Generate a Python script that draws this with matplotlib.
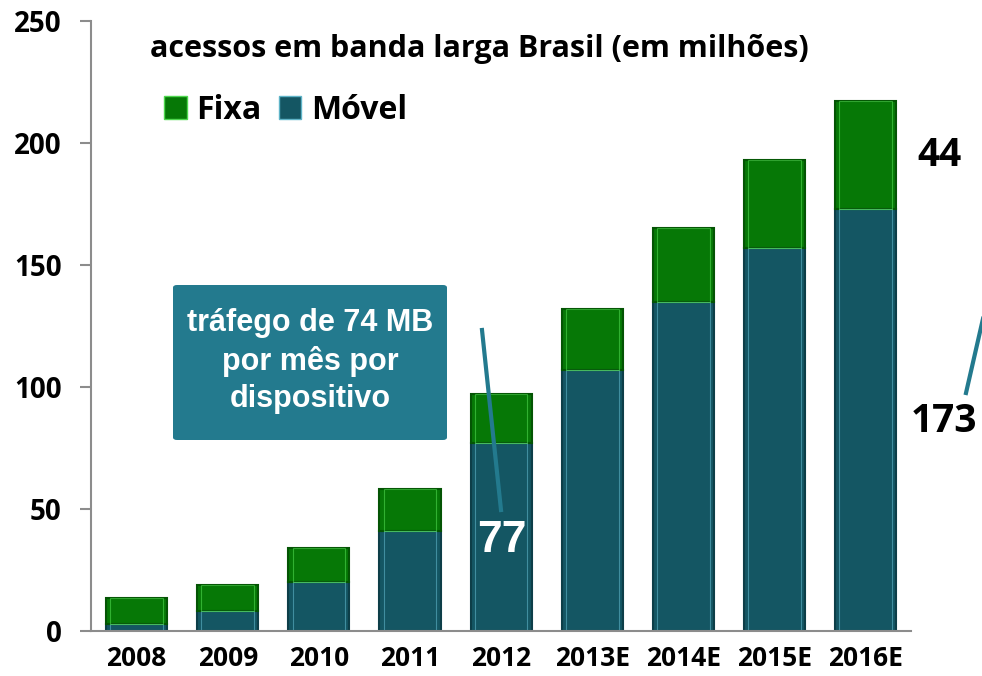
import matplotlib
matplotlib.use("Agg")
import matplotlib.pyplot as plt
from matplotlib.patches import Patch, FancyBboxPatch
from matplotlib.lines import Line2D
import numpy as np

# dados (milhões de acessos)
anos = ["2008", "2009", "2010", "2011", "2012", "2013E", "2014E", "2015E", "2016E"]
movel = [3, 8, 20, 41, 77, 107, 135, 157, 173]
fixa = [10.5, 11, 14, 17, 20, 25, 30, 36, 44]

verde = "#067806"
teal = "#145663"
caixa = "#237A8E"

plt.rcParams['font.family'] = ['Open Sans', 'DejaVu Sans']

fig = plt.figure(figsize=(9.82, 6.76), dpi=100)
ax = fig.add_axes([0.0927, 0.0666, 0.8353, 0.9024])

x = np.arange(len(anos))
w = 0.67
ax.bar(x, movel, w, color=teal, edgecolor="#0d3e48", linewidth=1.5)
ax.bar(x, fixa, w, bottom=movel, color=verde, edgecolor="#045404", linewidth=1.5)
# brilho interno (efeito chanfrado)
ax.bar(x, movel, w * 0.86, color="none", edgecolor="#5fb4c8", linewidth=0.8, alpha=0.6)
ax.bar(x, fixa, w * 0.86, bottom=movel, color="none", edgecolor="#4fd84f", linewidth=0.8, alpha=0.6)

ax.set_xlim(-0.5, len(anos) - 0.5)
ax.set_ylim(0, 250)
ax.set_yticks([0, 50, 100, 150, 200, 250])
ax.set_xticks(x)
ax.set_xticklabels(anos)
for s in ["top", "right"]:
    ax.spines[s].set_visible(False)
for s in ["left", "bottom"]:
    ax.spines[s].set_color("#8c8c8c")
    ax.spines[s].set_linewidth(1.5)
ax.tick_params(axis="y", length=8, width=1.5, color="#8c8c8c", labelsize=20, pad=13)
ax.tick_params(axis="x", length=0, labelsize=19, pad=10)
for t in ax.get_xticklabels() + ax.get_yticklabels():
    t.set_fontweight("bold")

fig.text(0.488, 0.927, "acessos em banda larga Brasil (em milhões)", ha="center", va="center",
         fontsize=22, fontweight="bold")

handles = [Patch(facecolor=verde, edgecolor="#4fd84f", label="Fixa"),
           Patch(facecolor=teal, edgecolor="#5fb4c8", label="Móvel")]
leg = fig.legend(handles=handles, loc="center left", bbox_to_anchor=(0.138, 0.837), ncol=2,
                 frameon=False, handlelength=0.7, handleheight=0.7, handletextpad=0.3,
                 columnspacing=0.55, prop={"size": 23, "weight": "bold"})

# caixa de anotação
box = FancyBboxPatch((173 / 982, 1 - 440 / 676), 274 / 982, 155 / 676,
                     boxstyle="round,pad=0,rounding_size=0.004", transform=fig.transFigure,
                     facecolor=caixa, edgecolor="none")
fig.patches.append(box)
fig.text(310 / 982, 1 - 361 / 676, "tráfego de 74 MB\npor mês por\ndispositivo", ha="center", va="center",
         color="white", fontsize=22, fontweight="bold", family="Liberation Sans", linespacing=1.3)

fig.lines.append(Line2D([482 / 982, 501 / 982], [1 - 330 / 676, 1 - 510 / 676],
                        transform=fig.transFigure, color=caixa, linewidth=3))
fig.lines.append(Line2D([966 / 982, 985 / 982], [1 - 393 / 676, 1 - 310 / 676],
                        transform=fig.transFigure, color=caixa, linewidth=3))

fig.text(502 / 982, 1 - 541 / 676, str(movel[4]), ha="center", va="center", color="white",
         fontsize=32, fontweight="bold", family="Liberation Sans")
fig.text(940 / 982, 1 - 155 / 676, str(fixa[-1]), ha="center", va="center", color="black",
         fontsize=28, fontweight="bold")
fig.text(944 / 982, 1 - 422 / 676, str(movel[-1]), ha="center", va="center", color="black",
         fontsize=28, fontweight="bold")

fig.savefig("out.png", dpi=100)
